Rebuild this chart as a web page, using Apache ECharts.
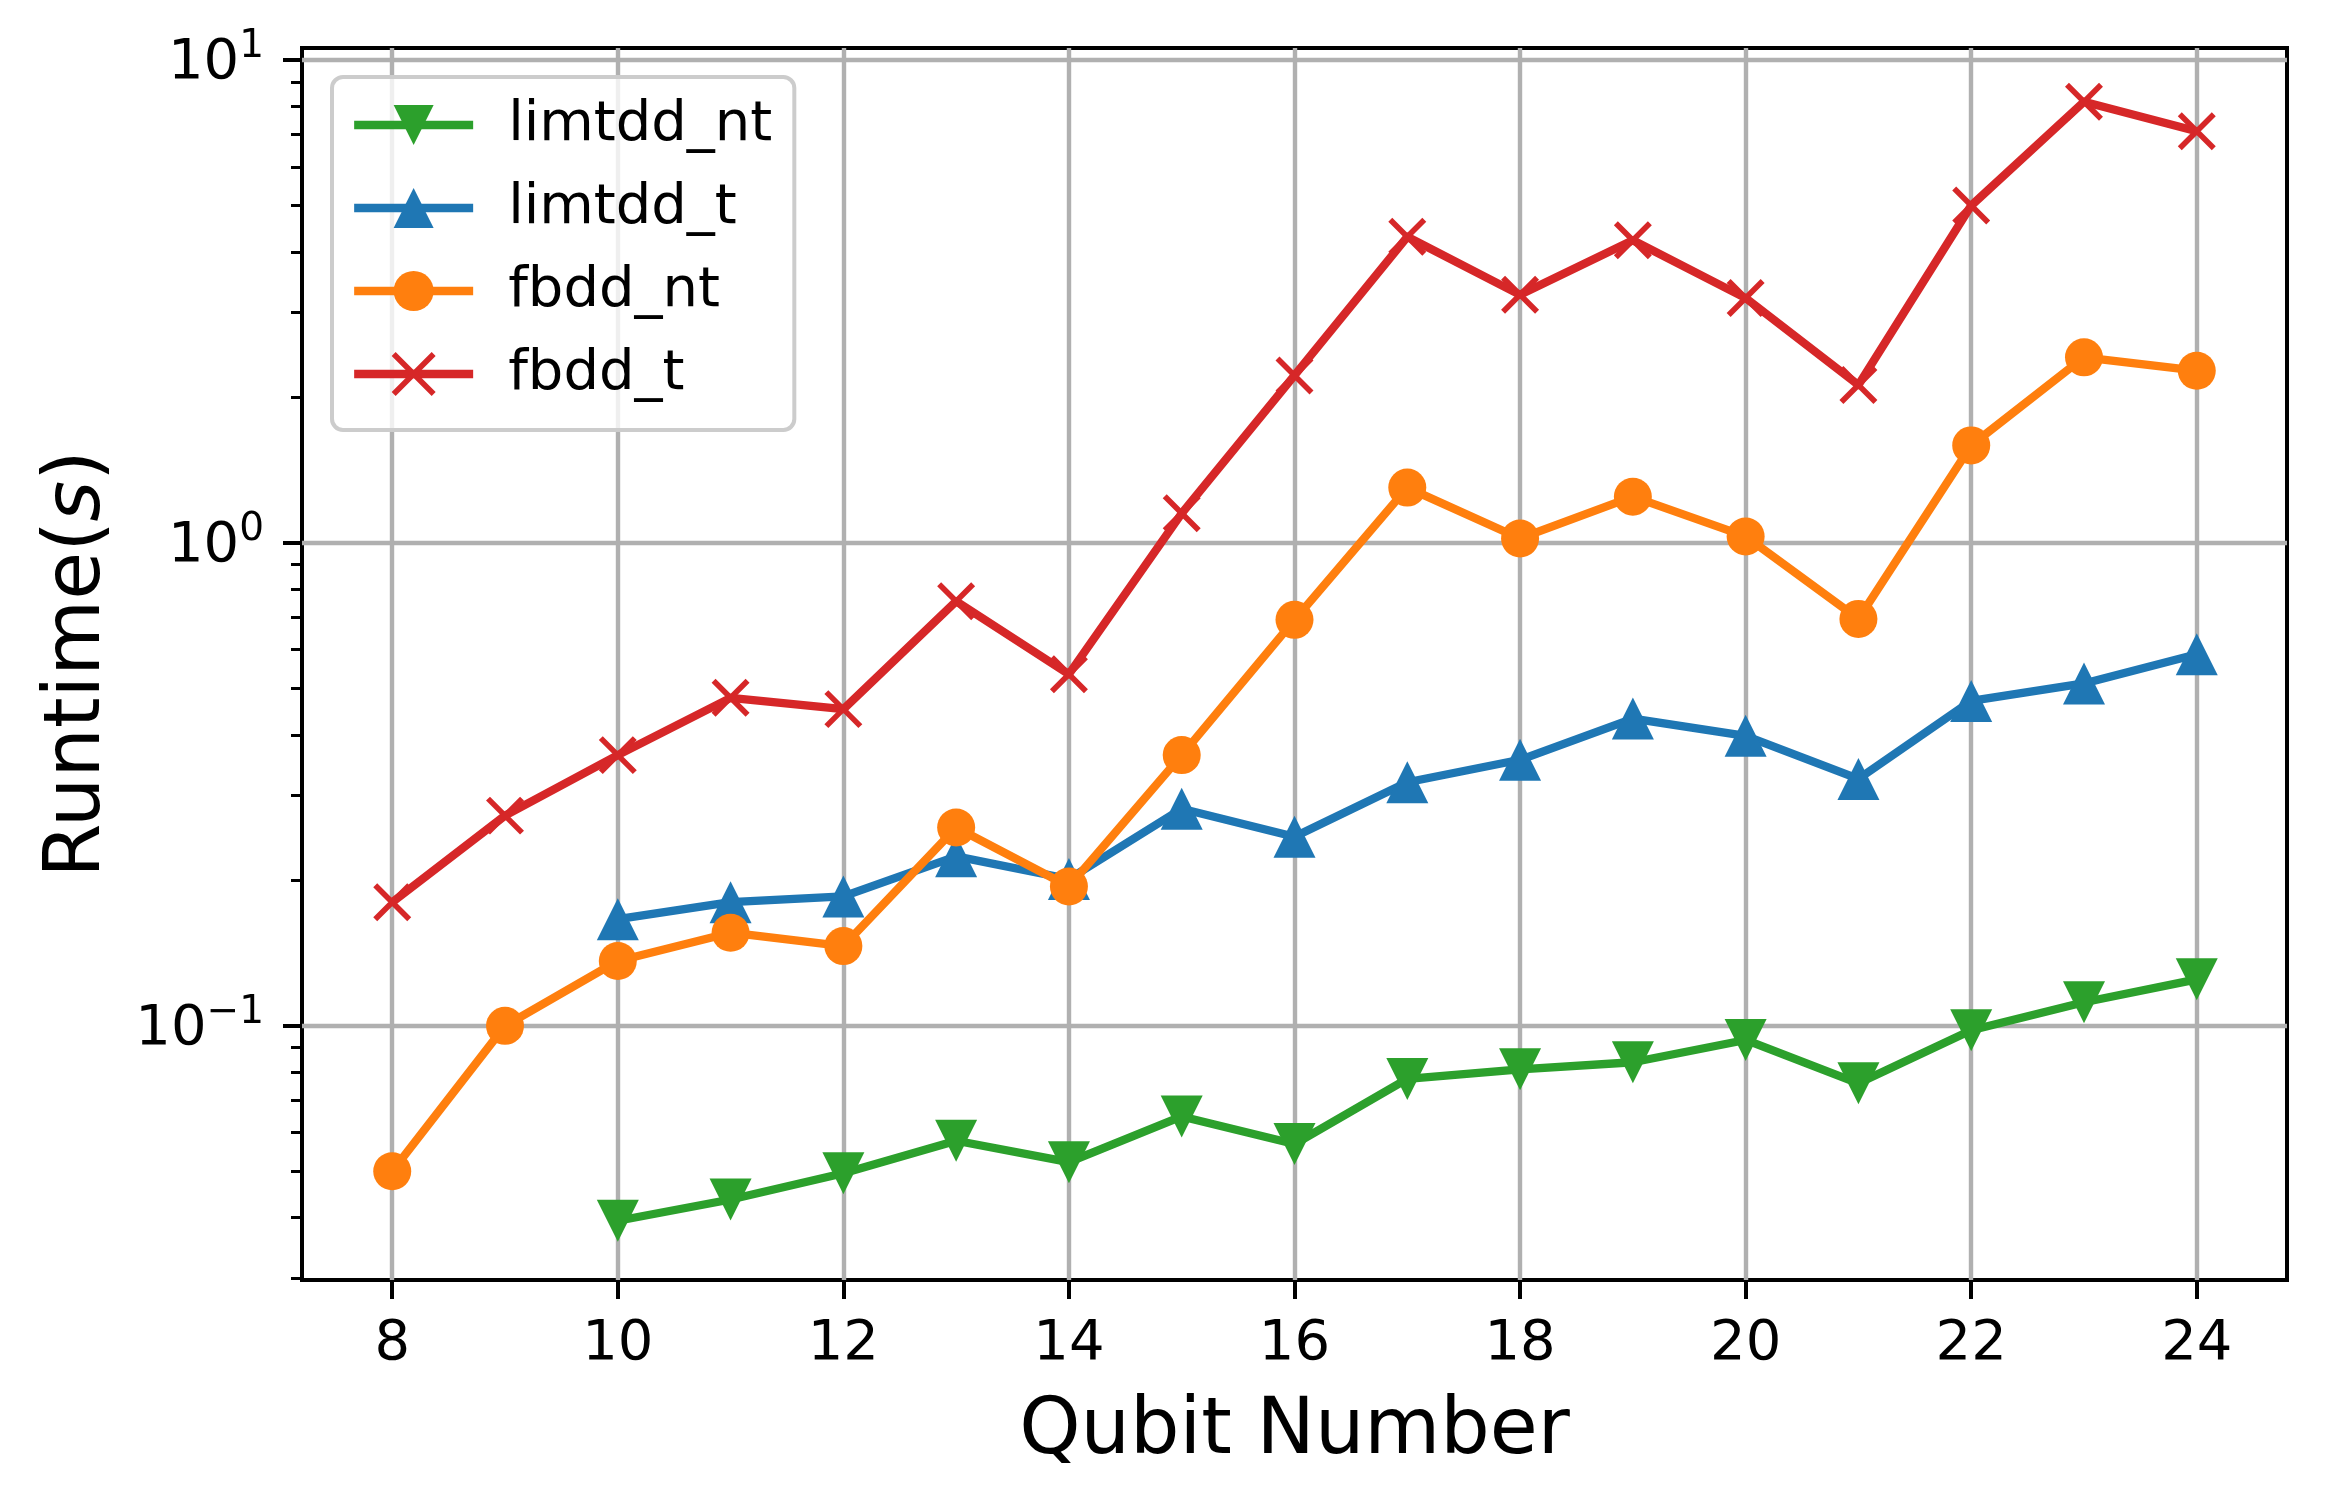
<!DOCTYPE html>
<html>
<head>
<meta charset="utf-8">
<script src="https://cdn.jsdelivr.net/npm/echarts@6/dist/echarts.min.js"></script>
<style>
  html, body { margin: 0; padding: 0; background: #ffffff; }
  #chart { width: 2328px; height: 1512px; }
</style>
</head>
<body>
<div id="chart"></div>
<script>
// ---- data ----
const qubits = [8, 9, 10, 11, 12, 13, 14, 15, 16, 17, 18, 19, 20, 21, 22, 23, 24];
const limtddNt = [null, null, 0.0394, 0.0436, 0.0494, 0.0577, 0.0521, 0.0648, 0.0568, 0.0775, 0.0811, 0.0839, 0.0933, 0.0759, 0.0977, 0.1117, 0.1246];
const limtddT  = [null, null, 0.166, 0.180, 0.185, 0.224, 0.201, 0.281, 0.246, 0.319, 0.355, 0.432, 0.398, 0.324, 0.470, 0.511, 0.587];
const fbddNt   = [0.0499, 0.0998, 0.136, 0.1556, 0.146, 0.257, 0.194, 0.363, 0.692, 1.30, 1.02, 1.245, 1.03, 0.695, 1.59, 2.42, 2.27];
const fbddT    = [0.180, 0.272, 0.363, 0.477, 0.452, 0.756, 0.534, 1.15, 2.22, 4.30, 3.26, 4.23, 3.21, 2.12, 4.99, 8.19, 7.11];
const seriesNames = ['limtdd_nt', 'limtdd_t', 'fbdd_nt', 'fbdd_t'];
const xTicks = [8, 10, 12, 14, 16, 18, 20, 22, 24];
const yMajorTicks = [0.1, 1, 10];
const yMinorTicks = [0.03, 0.04, 0.05, 0.06, 0.07, 0.08, 0.09,
                     0.2, 0.3, 0.4, 0.5, 0.6, 0.7, 0.8, 0.9,
                     2, 3, 4, 5, 6, 7, 8, 9];
const xLabel = 'Qubit Number';
const yLabelPrefix = 'Runtime(';
const yLabelItalic = 's';
const yLabelSuffix = ')';

// ---- style ----
const FONT = 'DejaVu Sans';
const colors = { limtdd_nt: '#2ca02c', limtdd_t: '#1f77b4', fbdd_nt: '#ff7f0e', fbdd_t: '#d62728' };
const X_MIN = 7.2, X_MAX = 24.8, Y_MIN = 0.0297, Y_MAX = 10.58;
const LW = 8.3;
const XW = 5.6;

function pairs(vals) {
  return qubits.map((q, i) => [q, vals[i]]).filter(p => p[1] !== null);
}

function lineSeries(name, vals, symbol, size, extra) {
  return Object.assign({
    name: name,
    type: 'line',
    data: pairs(vals),
    symbol: symbol,
    symbolSize: size,
    showAllSymbol: true,
    color: colors[name],
    lineStyle: { width: LW, color: colors[name], join: 'round', cap: 'butt' },
    itemStyle: { color: colors[name], borderWidth: 0 },
    emphasis: { disabled: true },
    animation: false,
    clip: false
  }, extra || {});
}

const chart = echarts.init(document.getElementById('chart'), null, { renderer: 'canvas' });

const supMap = { '-1': '\u22121', '0': '0', '1': '1' };

const legendData = seriesNames.map(n => n === 'fbdd_t'
  ? { name: n, itemStyle: { color: colors[n], borderColor: colors[n], borderWidth: XW } }
  : { name: n });

const option = {
  backgroundColor: '#ffffff',
  animation: false,
  textStyle: { fontFamily: FONT },
  grid: {
    left: 302, top: 48, right: 41, bottom: 232,
    show: true, borderColor: '#000000', borderWidth: 4, backgroundColor: 'transparent',
    containLabel: false
  },
  legend: {
    orient: 'vertical',
    left: 332, top: 77,
    data: legendData,
    itemWidth: 119, itemHeight: 50, itemGap: 27,
    padding: [20, 22, 28, 18],
    backgroundColor: 'rgba(255,255,255,0.8)',
    borderColor: '#cccccc', borderWidth: 4, borderRadius: 11,
    lineStyle: { width: LW },
    textStyle: { fontSize: 56, fontFamily: FONT, color: '#000000', padding: [0, 0, 0, 30], lineHeight: 50 },
    selectedMode: false
  },
  xAxis: {
    type: 'value',
    min: X_MIN, max: X_MAX,
    name: xLabel,
    nameLocation: 'middle',
    nameGap: 114,
    nameTextStyle: { fontSize: 78, fontFamily: FONT, color: '#000000' },
    axisLine: { show: false },
    axisTick: { show: true, customValues: xTicks, length: 19, lineStyle: { color: '#000000', width: 4 } },
    axisLabel: { customValues: xTicks, fontSize: 56, fontFamily: FONT, color: '#000000', margin: 36 },
    splitLine: { show: true, lineStyle: { color: '#b0b0b0', width: 4.4 } }
  },
  yAxis: [
    {
      type: 'log',
      logBase: 10,
      min: Y_MIN, max: Y_MAX,
      position: 'left',
      name: yLabelPrefix + '{i|' + yLabelItalic + '}' + yLabelSuffix,
      nameLocation: 'middle',
      nameGap: 184,
      nameRotate: 90,
      nameTextStyle: {
        fontSize: 78, fontFamily: FONT, color: '#000000',
        rich: { i: { fontSize: 78, fontFamily: FONT, fontStyle: 'italic', color: '#000000' } }
      },
      axisLine: { show: false },
      axisTick: { show: true, customValues: yMajorTicks, length: 19, lineStyle: { color: '#000000', width: 4 } },
      axisLabel: {
        customValues: yMajorTicks,
        margin: 38,
        color: '#000000',
        formatter: function (v) {
          const e = String(Math.round(Math.log10(v)));
          return '{b|10}{s|' + (supMap[e] || e) + '}';
        },
        rich: {
          b: { fontSize: 56, fontFamily: FONT, color: '#000000', verticalAlign: 'bottom', lineHeight: 64 },
          s: { fontSize: 39, fontFamily: FONT, color: '#000000', verticalAlign: 'top', lineHeight: 40 }
        }
      },
      splitLine: { show: true, lineStyle: { color: '#b0b0b0', width: 4.4 } }
    },
    {
      type: 'log',
      logBase: 10,
      min: Y_MIN, max: Y_MAX,
      position: 'left',
      offset: 0,
      axisLine: { show: false },
      axisTick: { show: true, customValues: yMinorTicks, length: 11, lineStyle: { color: '#000000', width: 3 } },
      axisLabel: { show: false },
      splitLine: { show: false }
    }
  ],
  series: [
    lineSeries('limtdd_nt', limtddNt, 'triangle', 42, { symbolRotate: 180 }),
    lineSeries('limtdd_t', limtddT, 'triangle', 42),
    lineSeries('fbdd_nt', fbddNt, 'circle', 38),
    lineSeries('fbdd_t', fbddT, 'path://M0,0L34,34M34,0L0,34', 34, {
      itemStyle: { color: colors.fbdd_t, borderColor: colors.fbdd_t, borderWidth: XW }
    })
  ]
};

chart.setOption(option);
</script>
</body>
</html>
